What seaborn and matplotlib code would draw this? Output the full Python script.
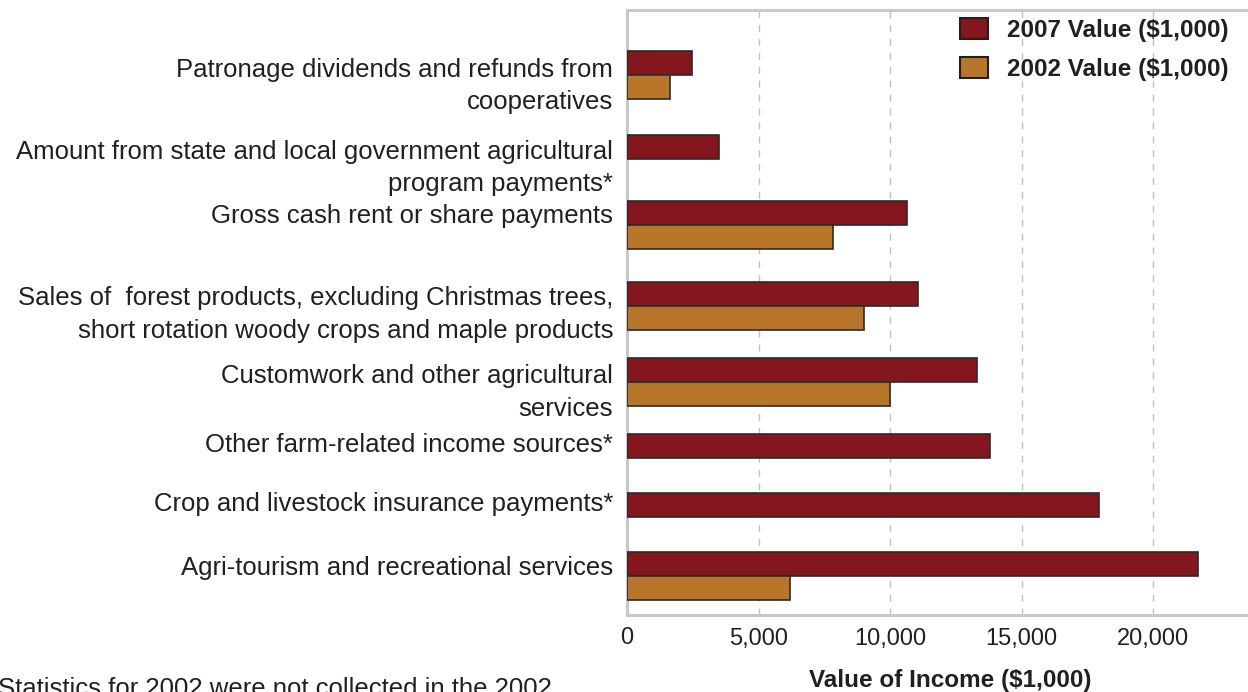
import numpy as np
import pandas as pd
import matplotlib
matplotlib.use("Agg")
import matplotlib.pyplot as plt
import seaborn as sns
from matplotlib.patches import Patch

# ---------------- data ----------------
categories = [
    "Patronage dividends and refunds from\ncooperatives",
    "Amount from state and local government agricultural\nprogram payments*",
    "Gross cash rent or share payments",
    "Sales of  forest products, excluding Christmas trees,\nshort rotation woody crops and maple products",
    "Customwork and other agricultural\nservices",
    "Other farm-related income sources*",
    "Crop and livestock insurance payments*",
    "Agri-tourism and recreational services",
]
values_2007 = [2460, 3510, 10630, 11070, 13300, 13800, 17950, 21710]
values_2002 = [1630, np.nan, 7850, 9010, 10000, np.nan, np.nan, 6200]
series_names = ["2007 Value ($1,000)", "2002 Value ($1,000)"]
x_ticks = [0, 5000, 10000, 15000, 20000]
x_label = "Value of Income ($1,000)"
footnote = "Statistics for 2002 were not collected in the 2002"

# ---------------- layout (figure-pixel units on the y axis) ----------------
W, H = 1248, 692
ax_left, ax_right, ax_top, ax_bottom = 627, 1248, 10, 615
row_centers = [75, 147, 225, 306, 382, 446, 505, 576]
label_centers = [79, 161, 214, 308, 386, 443, 501, 565]
bar_h = 24.0

colors = {"2007 Value ($1,000)": "#84161e", "2002 Value ($1,000)": "#b8762b"}
text_color = "#231f20"

sns.set_theme(style="white")
plt.rcParams["font.family"] = ["Liberation Sans", "DejaVu Sans"]

rows = []
for c, v7, v2 in zip(row_centers, values_2007, values_2002):
    if np.isnan(v2):
        rows.append({"pos": c, "value": v7, "series": series_names[0]})
    else:
        rows.append({"pos": c - bar_h / 2, "value": v7, "series": series_names[0]})
        rows.append({"pos": c + bar_h / 2, "value": v2, "series": series_names[1]})
df = pd.DataFrame(rows)

fig = plt.figure(figsize=(W / 100, H / 100), dpi=100)
ax = fig.add_axes([ax_left / W, 1 - ax_bottom / H,
                   (ax_right - ax_left) / W, (ax_bottom - ax_top) / H])

sns.barplot(data=df, x="value", y="pos", hue="series", orient="h",
            native_scale=True, dodge=False, width=1.0, errorbar=None,
            palette=colors, hue_order=series_names, saturation=1,
            edgecolor="#2b2b2b", linewidth=1.2, legend=False, ax=ax, zorder=3)

ax.set_ylim(ax_bottom, ax_top)
px_per_unit = (1153 - 627) / 20000
ax.set_xlim(0, (ax_right - ax_left) / px_per_unit)

ax.set_xticks(x_ticks)
ax.set_xticklabels([f"{t:,}" for t in x_ticks], fontsize=17, color=text_color)
ax.set_yticks(label_centers)
ax.set_yticklabels(categories, fontsize=18.5, color=text_color, linespacing=1.45)
ax.tick_params(axis="both", length=0)
ax.tick_params(axis="x", pad=9)
ax.tick_params(axis="y", pad=10)

ax.set_ylabel("")
ax.set_xlabel(x_label, fontsize=17.5, fontweight="bold", color=text_color)
ax.xaxis.set_label_coords((950 - ax_left) / (ax_right - ax_left),
                          -(680 - ax_bottom) / (ax_bottom - ax_top))
ax.xaxis.label.set_va("center")

for t in x_ticks[1:]:
    ax.axvline(t, color="#c0c0c0", linestyle=(0, (5, 5)), linewidth=1.0, zorder=1)

for side in ["left", "top", "bottom"]:
    ax.spines[side].set_color("#c8c8c8")
    ax.spines[side].set_linewidth(2.2)
ax.spines["right"].set_visible(False)

handles = [Patch(facecolor=colors[s], edgecolor="#231f20", linewidth=1.5, label=s)
           for s in series_names]
leg = fig.legend(handles=handles, loc="upper right",
                 bbox_to_anchor=(1238 / W, 1 - 8 / H), frameon=False,
                 prop={"size": 17.5, "weight": "bold"}, handlelength=1.15,
                 handleheight=1.0, handletextpad=0.75, labelspacing=0.6,
                 borderaxespad=0)
for t in leg.get_texts():
    t.set_color(text_color)

fig.text(-0.002, 1 - 677 / H, footnote, fontsize=18.5, color=text_color,
         ha="left", va="top")

fig.savefig("out.png", dpi=100)
